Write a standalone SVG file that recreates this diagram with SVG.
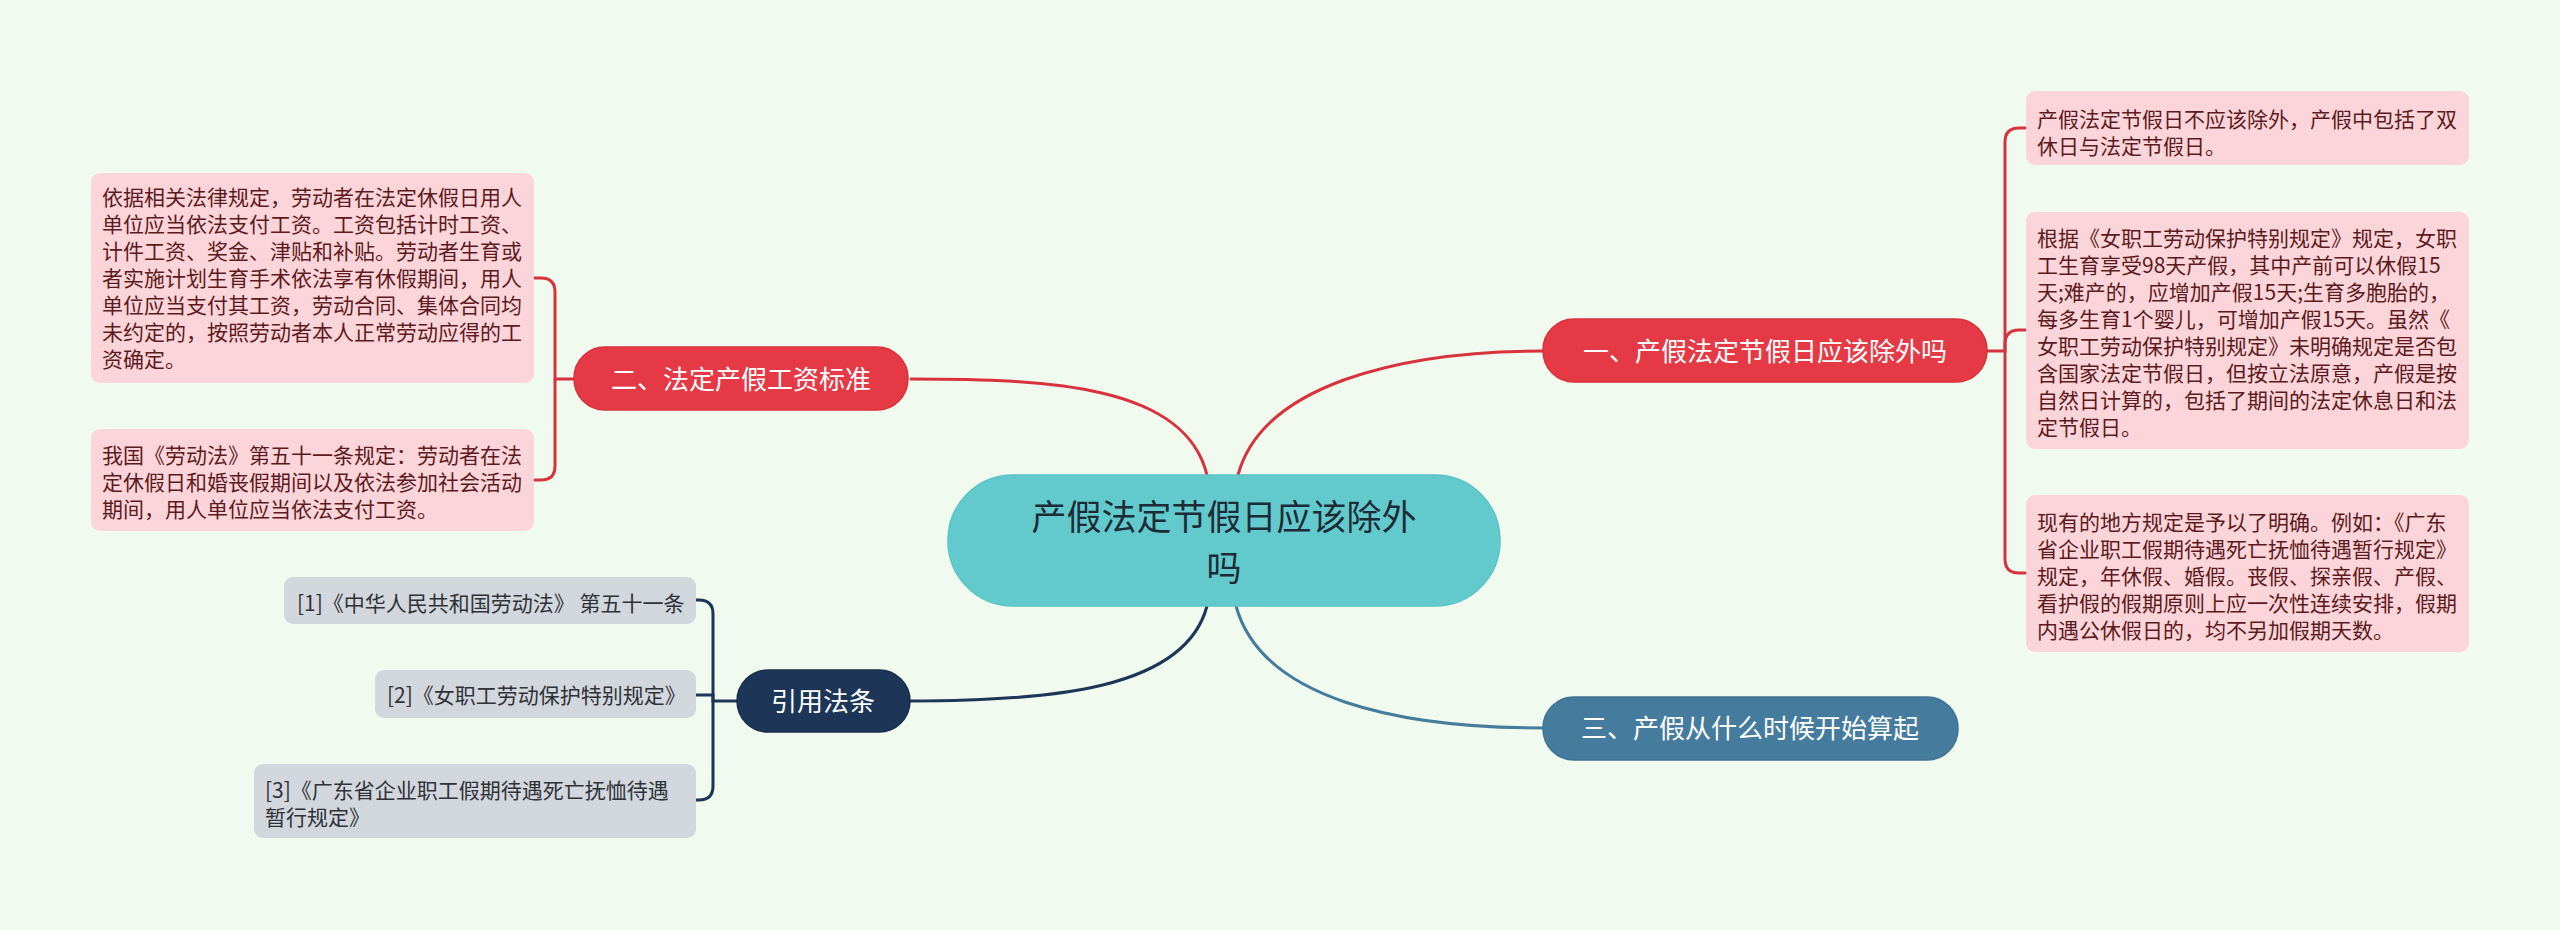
<svg xmlns="http://www.w3.org/2000/svg" width="2560" height="930" viewBox="0 0 2560 930">
<style>
.cjk{font-family:"Noto Sans CJK SC","Noto Sans",sans-serif}
.leaf{fill:#fbd5da}
.leaft{font-size:21px;fill:#5e1a20}
.cite{fill:#d2d6dd}
.citet{font-size:21px;fill:#2e3238}
.br{font-size:26px;fill:#ffffff;text-anchor:middle}
.red{fill:#e63946;stroke:#d8303d;stroke-width:1.5}
.lr{fill:none;stroke:#d8323f;stroke-width:3}
.ln{fill:none;stroke:#1d3557;stroke-width:3}
.lb{fill:none;stroke:#457b9d;stroke-width:3}
</style>
<rect width="2560" height="930" fill="#f1faee"/>
<g id="connectors">
<path class="lr" d="M1238,475 C1262,385 1400,351 1543,351"/>
<path class="lr" d="M1207,475 C1185,385 1050,379 910,379"/>
<path class="ln" d="M1207,606 C1185,690 1050,701 910,701"/>
<path class="lb" d="M1236,606 C1262,700 1400,728 1543,728"/>
<path class="lr" d="M1987,351 H2005 V142 Q2005,128 2019,128 H2026"/>
<path class="lr" d="M2005,351 V344 Q2005,330 2019,330 H2026"/>
<path class="lr" d="M2005,351 V559 Q2005,573 2019,573 H2026"/>
<path class="lr" d="M574,379 H555 V292 Q555,278 541,278 H534"/>
<path class="lr" d="M555,379 V466 Q555,480 541,480 H534"/>
<path class="ln" d="M737,701 H713 V614 Q713,600 699,600 H696"/>
<path class="ln" d="M713,701 V695 H696"/>
<path class="ln" d="M713,701 V786 Q713,800 699,800 H696"/>
</g>
<g id="center">
<rect x="948" y="475" width="552" height="131" rx="65" fill="#62cacd" stroke="#5bc2c5" stroke-width="1.5"/>
<text class="cjk" font-size="35" fill="#1d2b36" text-anchor="middle"><tspan x="1224" y="530">产假法定节假日应该除外</tspan><tspan x="1224" y="581">吗</tspan></text>
</g>
<g id="branch1">
<rect class="red" x="1543" y="319" width="444" height="63" rx="31"/>
<text class="cjk br" x="1765" y="361">一、产假法定节假日应该除外吗</text>
</g>
<g id="branch2">
<rect class="red" x="574" y="347" width="334" height="63" rx="31"/>
<text class="cjk br" x="741" y="389">二、法定产假工资标准</text>
</g>
<g id="branch3">
<rect x="1543" y="697" width="415" height="63" rx="31" fill="#457b9d" stroke="#3f7293" stroke-width="1.5"/>
<text class="cjk br" x="1750" y="738">三、产假从什么时候开始算起</text>
</g>
<g id="branch4">
<rect x="737" y="670" width="173" height="62" rx="31" fill="#1d3557" stroke="#182d4b" stroke-width="1.5"/>
<text class="cjk br" x="823" y="711">引用法条</text>
</g>
<g id="leafR1">
<rect class="leaf" x="2026" y="91" width="443" height="74" rx="9"/>
<text class="cjk leaft" x="2037" y="127">产假法定节假日不应该除外，产假中包括了双</text>
<text class="cjk leaft" x="2037" y="154">休日与法定节假日。</text>
</g>
<g id="leafR2">
<rect class="leaf" x="2026" y="212" width="443" height="237" rx="9"/>
<text class="cjk leaft" x="2037" y="246">根据《女职工劳动保护特别规定》规定，女职</text>
<text class="cjk leaft" x="2037" y="273">工生育享受98天产假，其中产前可以休假15</text>
<text class="cjk leaft" x="2037" y="300">天;难产的，应增加产假15天;生育多胞胎的，</text>
<text class="cjk leaft" x="2037" y="327">每多生育1个婴儿，可增加产假15天。虽然《</text>
<text class="cjk leaft" x="2037" y="354">女职工劳动保护特别规定》未明确规定是否包</text>
<text class="cjk leaft" x="2037" y="381">含国家法定节假日，但按立法原意，产假是按</text>
<text class="cjk leaft" x="2037" y="408">自然日计算的，包括了期间的法定休息日和法</text>
<text class="cjk leaft" x="2037" y="435">定节假日。</text>
</g>
<g id="leafR3">
<rect class="leaf" x="2026" y="495" width="443" height="157" rx="9"/>
<text class="cjk leaft" x="2037" y="530">现有的地方规定是予以了明确。例如：《广东</text>
<text class="cjk leaft" x="2037" y="557">省企业职工假期待遇死亡抚恤待遇暂行规定》</text>
<text class="cjk leaft" x="2037" y="584">规定，年休假、婚假。丧假、探亲假、产假、</text>
<text class="cjk leaft" x="2037" y="611">看护假的假期原则上应一次性连续安排，假期</text>
<text class="cjk leaft" x="2037" y="638">内遇公休假日的，均不另加假期天数。</text>
</g>
<g id="leafL1">
<rect class="leaf" x="91" y="173" width="443" height="210" rx="9"/>
<text class="cjk leaft" x="102" y="205">依据相关法律规定，劳动者在法定休假日用人</text>
<text class="cjk leaft" x="102" y="232">单位应当依法支付工资。工资包括计时工资、</text>
<text class="cjk leaft" x="102" y="259">计件工资、奖金、津贴和补贴。劳动者生育或</text>
<text class="cjk leaft" x="102" y="286">者实施计划生育手术依法享有休假期间，用人</text>
<text class="cjk leaft" x="102" y="313">单位应当支付其工资，劳动合同、集体合同均</text>
<text class="cjk leaft" x="102" y="340">未约定的，按照劳动者本人正常劳动应得的工</text>
<text class="cjk leaft" x="102" y="367">资确定。</text>
</g>
<g id="leafL2">
<rect class="leaf" x="91" y="429" width="443" height="102" rx="9"/>
<text class="cjk leaft" x="102" y="463">我国《劳动法》第五十一条规定：劳动者在法</text>
<text class="cjk leaft" x="102" y="490">定休假日和婚丧假期间以及依法参加社会活动</text>
<text class="cjk leaft" x="102" y="517">期间，用人单位应当依法支付工资。</text>
</g>
<g id="cite1">
<rect class="cite" x="284" y="577" width="412" height="47" rx="9"/>
<text class="cjk citet" x="297" y="611">[1]《中华人民共和国劳动法》 第五十一条</text>
</g>
<g id="cite2">
<rect class="cite" x="375" y="670" width="321" height="48" rx="9"/>
<text class="cjk citet" x="387" y="703">[2]《女职工劳动保护特别规定》</text>
</g>
<g id="cite3">
<rect class="cite" x="254" y="764" width="442" height="74" rx="9"/>
<text class="cjk citet" x="265" y="798">[3]《广东省企业职工假期待遇死亡抚恤待遇</text>
<text class="cjk citet" x="265" y="825">暂行规定》</text>
</g>
</svg>
